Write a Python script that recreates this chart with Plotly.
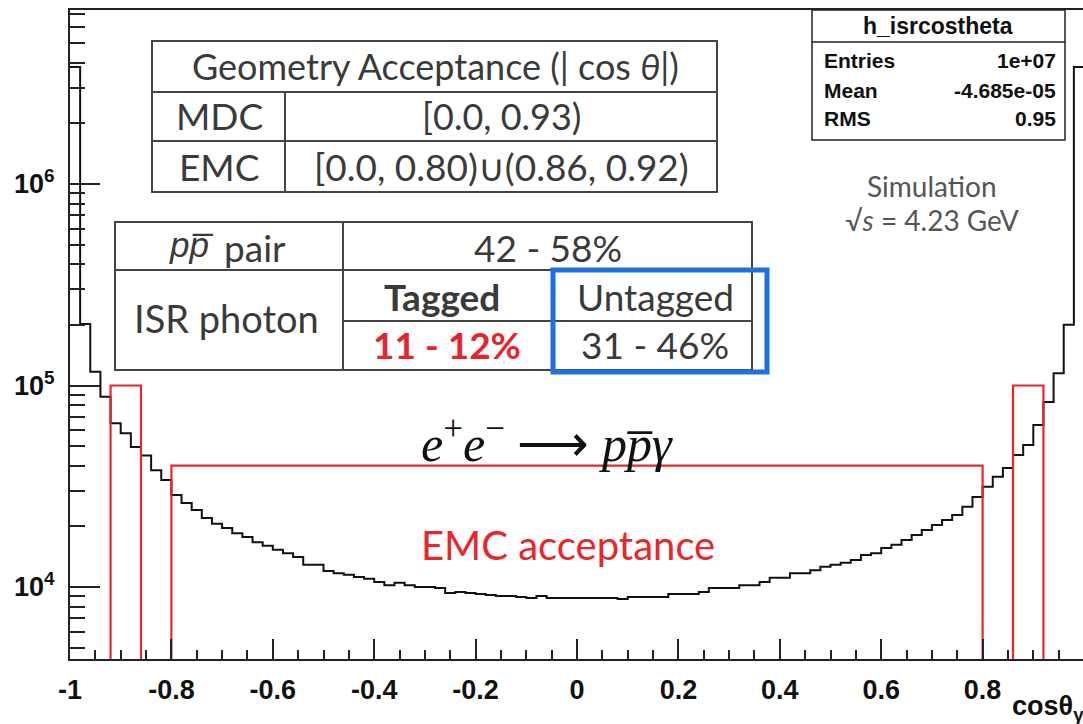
import numpy as np
import plotly.graph_objects as go

# ---------------- data ----------------
bin_low, bin_high, n_bins = -1.0, 1.0, 100
counts = [
    3.81e6, 2.02e5, 1.17e5, 8.8e4, 6.5e4, 5.8e4, 4.95e4, 4.5e4, 3.8e4, 3.4e4,
    2.86e4, 2.61e4, 2.41e4, 2.20e4, 2.06e4, 1.96e4, 1.85e4, 1.77e4, 1.67e4, 1.60e4,
    1.53e4, 1.47e4, 1.41e4, 1.29e4, 1.29e4, 1.20e4, 1.17e4, 1.15e4, 1.12e4, 1.10e4,
    1.06e4, 1.02e4, 1.05e4, 1.02e4, 1.00e4, 1.00e4, 9.89e3, 9.33e3, 9.44e3, 9.33e3,
    9.23e3, 9.13e3, 9.02e3, 9.02e3, 8.92e3, 8.82e3, 9.02e3, 8.82e3, 8.82e3, 8.82e3,
    8.82e3, 8.82e3, 8.82e3, 8.82e3, 8.71e3, 8.92e3, 8.92e3, 8.92e3, 8.92e3, 9.23e3,
    9.23e3, 9.23e3, 9.44e3, 9.89e3, 9.89e3, 9.89e3, 1.02e4, 1.02e4, 1.06e4, 1.11e4,
    1.11e4, 1.17e4, 1.17e4, 1.21e4, 1.26e4, 1.29e4, 1.32e4, 1.36e4, 1.44e4, 1.47e4,
    1.56e4, 1.62e4, 1.71e4, 1.81e4, 1.92e4, 2.03e4, 2.15e4, 2.28e4, 2.50e4, 2.80e4,
    3.14e4, 3.52e4, 3.90e4, 4.52e4, 5.07e4, 6.37e4, 8.28e4, 1.15e5, 2.00e5, 3.81e6,
]
# EMC acceptance boxes
acc_lo = [-0.92, -0.80, 0.86]
acc_hi = [-0.86, 0.80, 0.92]
acc_height = [1.0e5, 4.0e4, 1.0e5]

x_tick_vals = [-1, -0.8, -0.6, -0.4, -0.2, 0, 0.2, 0.4, 0.6, 0.8, 1]
x_tick_text = ["-1", "-0.8", "-0.6", "-0.4", "-0.2", "0", "0.2", "0.4", "0.6", "0.8", "1"]
y_tick_vals = [1e4, 1e5, 1e6]
y_tick_text = ["10<sup>4</sup>", "10<sup>5</sup>", "10<sup>6</sup>"]

stats_names = ["Entries", "Mean", "RMS"]
stats_vals = ["1e+07", "-4.685e-05", "0.95"]

# ---------------- geometry helpers ----------------
W, H = 1083, 724
ML, MR, MT, MB = 70, 0, 10, 65
PW, PH = W - ML - MR, H - MT - MB


def px(x):
    return (x - ML) / PW


def py(y):
    return (H - MB - y) / PH


edges = np.linspace(bin_low, bin_high, n_bins + 1)

fig = go.Figure()
fig.add_trace(go.Scatter(
    x=edges, y=counts + [counts[-1]], mode="lines", line_shape="hv",
    line=dict(color="#111111", width=2), hoverinfo="skip"))

floor_val = 1e3
for lo, hi, h in zip(acc_lo, acc_hi, acc_height):
    fig.add_trace(go.Scatter(
        x=[lo, lo, hi, hi], y=[floor_val, h, h, floor_val], mode="lines",
        line=dict(color="#e8262b", width=2.2), hoverinfo="skip"))

minor_x = [round(v, 3) for v in np.arange(-1, 1.0001, 0.05)]
minor_y = [m * 10 ** e for e in range(3, 7) for m in range(2, 10)]

tickfont = dict(family="Liberation Sans", size=27, color="#111111", weight="bold")
fig.update_layout(
    width=W, height=H, margin=dict(l=ML, r=MR, t=MT, b=MB),
    paper_bgcolor="white", plot_bgcolor="white", showlegend=False,
    xaxis=dict(range=[-1, 0.998], tickmode="array", tickvals=x_tick_vals, ticktext=x_tick_text,
               ticks="inside", ticklen=20, tickwidth=1.5, tickcolor="#222",
               showline=True, linecolor="#222", linewidth=2, mirror=True,
               showgrid=False, zeroline=False, tickfont=tickfont, ticklabelstandoff=6,
               minor=dict(tickmode="array", tickvals=minor_x, ticks="inside", ticklen=9,
                          tickwidth=1.5, tickcolor="#222", showgrid=False)),
    yaxis=dict(type="log", range=[3.6427, 6.8635], tickmode="array", tickvals=y_tick_vals,
               ticktext=y_tick_text, ticks="inside", ticklen=30, tickwidth=1.5, tickcolor="#222",
               showline=True, linecolor="#222", linewidth=2, mirror=False,
               showgrid=False, zeroline=False, tickfont=tickfont, ticklabelstandoff=8,
               minor=dict(tickmode="array", tickvals=minor_y, ticks="inside", ticklen=15,
                          tickwidth=1.5, tickcolor="#222", showgrid=False)),
)

shapes = []
annots = []


def line(x0, y0, x1, y1, color="#444", width=2):
    shapes.append(dict(type="line", xref="paper", yref="paper", x0=px(x0), y0=py(y0),
                       x1=px(x1), y1=py(y1), line=dict(color=color, width=width)))


def rect(x0, y0, x1, y1, color="#444", width=2, fill="rgba(0,0,0,0)"):
    shapes.append(dict(type="rect", xref="paper", yref="paper", x0=px(x0), y0=py(y0),
                       x1=px(x1), y1=py(y1), line=dict(color=color, width=width), fillcolor=fill))


def text(t, x, y, size, color="#333", family="Lato", xanchor="center", weight="normal"):
    annots.append(dict(text=t, xref="paper", yref="paper", x=px(x), y=py(y), xanchor=xanchor,
                       yanchor="middle", showarrow=False,
                       font=dict(size=size, color=color, family=family, weight=weight)))


tab_font = "Lato"
tab_col = "#3a3a3a"
# Table 1: geometry acceptance
rect(152, 41, 717, 192, fill="white")
line(152, 92, 717, 92)
line(152, 141, 717, 141)
line(285, 92, 285, 192)
text("Geometry Acceptance (| cos <i>θ</i>|)", 435, 66, 36, tab_col, tab_font)
text("MDC", 219, 116, 37, tab_col, tab_font)
text("[0.0, 0.93)", 501, 116, 36, tab_col, tab_font)
text("EMC", 219, 166, 37, tab_col, tab_font)
text("[0.0, 0.80)∪(0.86, 0.92)", 501, 166, 37, tab_col, tab_font)

# Table 2: efficiencies
rect(115, 222, 752, 370, fill="white")
line(115, 270, 752, 270)
line(343, 222, 343, 370)
line(343, 321, 752, 321)
line(553, 270, 553, 370)
text("<i>pp̅</i>", 216, 245, 35, tab_col, "Liberation Sans", xanchor="right")
text("pair", 222, 247, 37, tab_col, tab_font, xanchor="left")
text("42 - 58%", 548, 247, 37, tab_col, tab_font)
text("ISR photon", 226, 318, 38, tab_col, tab_font)
text("Tagged", 442, 296, 37, tab_col, tab_font, weight="bold")
text("Untagged", 655, 296, 37, tab_col, tab_font)
text("11 - 12%", 447, 345, 37, "#e8232c", tab_font, weight="bold")
text("31 - 46%", 655, 345, 37, tab_col, tab_font)
shapes.append(dict(type="rect", xref="paper", yref="paper", x0=px(553), y0=py(372),
                   x1=px(767), y1=py(270), line=dict(color="#1f6fe0", width=5)))

# Stats box
rect(812, 10, 1065, 140, color="#222", width=1.5, fill="white")
line(812, 42, 1065, 42, color="#222", width=1.5)
sfont = "Liberation Sans"
text("h_isrcostheta", 938, 26, 23, "#111", sfont, weight="bold")
for name, val, yy in zip(stats_names, stats_vals, [61, 90, 118]):
    text(name, 822, yy, 21, "#111", sfont, xanchor="left", weight="bold")
    text(val, 1058, yy, 21, "#111", sfont, xanchor="right", weight="bold")

# Simulation labels
text("Simulation", 932, 186, 28, "#555", tab_font)
text("√<i>s</i> = 4.23 GeV", 932, 220, 28, "#555", tab_font)

# Process formula
text("<i>e</i><sup>+</sup><i>e</i><sup>−</sup> ⟶ <i>pp̅γ</i>", 547, 440, 50,
     "#111", "Liberation Serif")

# EMC acceptance
text("EMC acceptance", 568, 545, 40, "#e8262b", tab_font)

# x-axis title
text("cosθ<sub>γ</sub>", 1010, 708, 27, "#111", "Liberation Sans", xanchor="left", weight="bold")

fig.update_layout(shapes=shapes, annotations=annots)
fig.write_html("out.html")
